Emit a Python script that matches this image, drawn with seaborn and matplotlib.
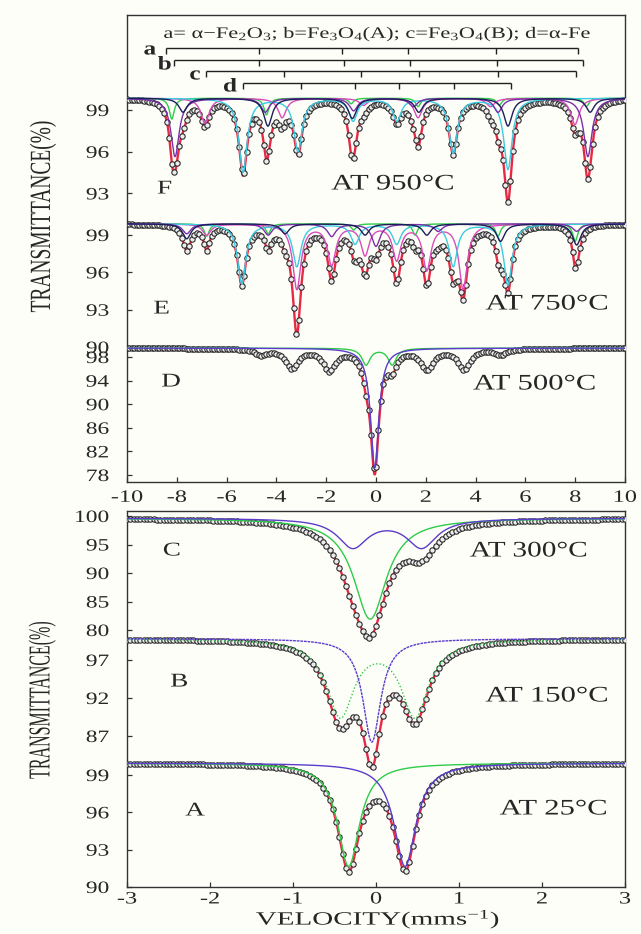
import numpy as np
import pandas as pd
import matplotlib
matplotlib.use("Agg")
import matplotlib.pyplot as plt
import seaborn as sns
from matplotlib.patheffects import AbstractPathEffect
from matplotlib.transforms import Affine2D

# ---------------- data ----------------
LEGEND_TEXT = r"a= α−Fe$_2$O$_3$; b=Fe$_3$O$_4$(A); c=Fe$_3$O$_4$(B); d=α-Fe"
BRACKET_NAMES = ["a", "b", "c", "d"]
BRACKET_A = [-8.45, -4.68, -1.35, 1.30, 4.83, 8.13]
BRACKET_B = [-8.12, -4.68, -1.27, 1.37, 4.85, 8.30]
BRACKET_C = [-6.81, -3.69, -0.62, 1.73, 4.90, 8.05]
BRACKET_D = [-5.33, -3.03, -0.85, 0.91, 3.12, 5.42]

TOP_XTICKS = [-10, -8, -6, -4, -2, 0, 2, 4, 6, 8, 10]
BOT_XTICKS = [-3, -2, -1, 0, 1, 2, 3]

# spectrum F (950 C): baseline and lines (position mm/s, depth %)
F_BASE = 99.85
F_CYAN = ([-5.34, -3.13, -0.92, 0.84, 3.10, 5.30], [5.3, 3.8, 1.6, 1.6, 3.9, 5.1])
F_NAVY = ([-7.75, -4.34, -0.95, 1.72, 5.30, 8.60], [1.0, 2.0, 1.45, 1.0, 2.0, 1.0])
F_PURPLE = ([-8.07, -4.45, -0.90, 1.50, 4.90, 8.51], [4.2, 1.0, 0.9, 0.6, 1.0, 4.2])
F_MAGENTA = ([-6.87, -3.77, -0.50, 1.69, 4.60, 7.99], [1.8, 1.4, 0.5, 1.4, 0.6, 1.9])
F_GREEN = ([-8.20, -4.40, -1.00, 1.69, 4.95, 8.45], [1.5, 1.2, 0.4, 0.6, 0.5, 0.6])
F_TICKS = [99, 96, 93]

# spectrum E (750 C)
E_BASE = 99.9
E_CYAN = ([-5.39, -3.18, -0.84, 0.83, 3.10, 5.30], [4.8, 3.4, 1.6, 1.6, 3.4, 4.9])
E_MAGENTA = ([-6.80, -3.18, -1.78, -0.44, 0.83, 2.04, 3.50], [0.9, 5.2, 3.2, 2.4, 2.8, 3.6, 5.2])
E_NAVY = ([-7.60, -3.65, -0.44, 2.04, 5.00, 8.06], [1.2, 0.8, 0.9, 0.9, 1.4, 1.7])
E_GREEN = ([-6.80, -4.33, -0.90, 1.57, 4.90, 8.00], [1.0, 0.8, 0.5, 0.9, 1.0, 1.4])
E_PURPLE = ([-7.60, -4.33, -1.78, 0.00, 2.50, 8.06], [0.8, 0.9, 1.0, 1.8, 0.6, 0.6])
E_TICKS = [99, 96, 93, 90]

# spectrum D (500 C)
D_BASE = 99.5
D_PURPLE = ([-0.05], [20.3])
D_GREEN = ([-0.40, 0.65], [2.8, 2.8])
D_BROAD = ([-4.60, -3.37, -1.88, 2.05, 3.53, 5.00], [1.0, 3.3, 3.5, 3.4, 3.4, 1.0])
D_TICKS = [98, 94, 90, 86, 82, 78]

# spectrum C (300 C)
C_BASE = 99.6
C_GREEN = ([-0.07], [17.7])
C_PURPLE = ([-0.28, 0.55], [5.0, 5.0])
C_TICKS = [100, 95, 90, 85, 80]

# spectrum B (150 C)
B_BASE = 99.8
B_PURPLE = ([-0.05], [13.6])
B_GREEN = ([-0.43, 0.47], [10.0, 10.0])
B_TICKS = [97, 92, 87]

# spectrum A (25 C)
A_BASE = 99.95
A_GREEN = ([-0.33], [8.3])
A_PURPLE = ([0.35], [8.3])
A_TICKS = [99, 96, 93, 90]

# line half widths (mm/s)
G_SEXTET, G_NARROW, G_D_MAIN, G_D_GREEN, G_D_BROAD = 0.20, 0.12, 0.20, 0.20, 0.30
G_C_GREEN, G_C_PURPLE, G_B_PURPLE, G_B_GREEN, G_A = 0.24, 0.22, 0.13, 0.20, 0.16

# ---------------- styling ----------------
RED = "#e62a45"
NAVY = "#1d1d5a"
VIOLET = "#7b2fa8"
MAGENTA = "#d84cbc"
CYAN = "#3ccbe0"
GREEN = "#2fcb4a"
BLUEVIOLET = "#5b3ccc"
BG = "#fefef8"

sns.set_style("ticks")
plt.rcParams["font.family"] = ["Liberation Serif", "DejaVu Serif"]
plt.rcParams["mathtext.fontset"] = "custom"
plt.rcParams["mathtext.rm"] = "Liberation Serif"
plt.rcParams["mathtext.it"] = "Liberation Serif:italic"
plt.rcParams["axes.unicode_minus"] = False


class StretchX(AbstractPathEffect):
    """Widen the glyphs horizontally (the reference scan is stretched)."""

    def __init__(self, sx=1.4, anchor="center"):
        super().__init__()
        self.sx = sx
        self.anchor = anchor

    def draw_path(self, renderer, gc, tpath, affine, rgbFace=None):
        ext = tpath.get_extents(affine)
        if self.anchor == "right":
            cx = ext.x1
        elif self.anchor == "left":
            cx = ext.x0
        else:
            cx = 0.5 * (ext.x0 + ext.x1)
        aff = affine + Affine2D().translate(-cx, 0).scale(self.sx, 1.0).translate(cx, 0)
        renderer.draw_path(gc, tpath, aff, rgbFace)


def lsum(v, lines, g):
    pos, dep = lines
    out = np.zeros_like(v)
    for p, d in zip(pos, dep):
        out += d / (1.0 + ((v - p) / g) ** 2)
    return out


def ymap(T, t0, p0, ppu):
    return p0 + (t0 - np.asarray(T, dtype=float)) * ppu


def draw_spectrum(ax, vfine, vpts, base, comps, hidden, mp):
    total_f = np.full_like(vfine, base)
    total_p = np.full_like(vpts, base)
    for lines, g, col, ls in comps + hidden:
        total_f -= lsum(vfine, lines, g)
        total_p -= lsum(vpts, lines, g)
    sns.lineplot(x=vfine, y=ymap(total_f, *mp), ax=ax, color=RED, linewidth=1.7,
                 sort=False, zorder=2)
    sns.scatterplot(x=vpts, y=ymap(total_p, *mp), ax=ax, marker="o", s=15,
                    facecolor="#ececec", edgecolor="#202020", linewidth=0.75,
                    zorder=3, legend=False)
    for lines, g, col, ls in comps:
        comp = base - lsum(vfine, lines, g)
        sns.lineplot(x=vfine, y=ymap(comp, *mp), ax=ax, color=col, linewidth=1.0,
                     linestyle=ls, sort=False, zorder=4)


fig = plt.figure(figsize=(6.41, 9.34), dpi=100, facecolor=BG)
W, H = 641.0, 934.0
ax_top = fig.add_axes([127 / W, 1 - 481.5 / H, 498 / W, 466.5 / H])
ax_bot = fig.add_axes([127 / W, 1 - 887 / H, 498 / W, 376.5 / H])
for ax in (ax_top, ax_bot):
    ax.set_facecolor(BG)

# ---------------- top panel ----------------
vt_f = np.linspace(-10, 10, 2001)
vt_p = np.linspace(-10, 10, 201)
F_MAP = (99, 110, 13.9)
E_MAP = (99, 235, 12.45)
D_MAP = (98, 357, 5.9)

draw_spectrum(ax_top, vt_f, vt_p, F_BASE,
              [(F_GREEN, G_NARROW, GREEN, "-"), (F_MAGENTA, G_SEXTET, MAGENTA, "-"),
               (F_CYAN, G_SEXTET, CYAN, "-"), (F_PURPLE, G_SEXTET, VIOLET, "-"),
               (F_NAVY, G_SEXTET, NAVY, "-")], [], F_MAP)
draw_spectrum(ax_top, vt_f, vt_p, E_BASE,
              [(E_GREEN, G_NARROW, GREEN, "-"), (E_MAGENTA, G_SEXTET, MAGENTA, "-"),
               (E_CYAN, G_SEXTET, CYAN, "-"), (E_PURPLE, G_SEXTET, VIOLET, "-"),
               (E_NAVY, G_SEXTET, NAVY, "-")], [], E_MAP)
draw_spectrum(ax_top, vt_f, vt_p, D_BASE,
              [(D_GREEN, G_D_GREEN, GREEN, "-"), (D_PURPLE, G_D_MAIN, BLUEVIOLET, "-")],
              [(D_BROAD, G_D_BROAD, RED, "-")], D_MAP)

ax_top.set_xlim(-10, 10)
ax_top.set_ylim(481.5, 15)
ax_top.set_xticks(TOP_XTICKS)
ax_top.set_xticklabels([str(t) for t in TOP_XTICKS])
ytick_pos = list(ymap(F_TICKS, *F_MAP)) + list(ymap(E_TICKS, *E_MAP)) + list(ymap(D_TICKS, *D_MAP))
ytick_lab = [str(t) for t in F_TICKS + E_TICKS + D_TICKS]
ax_top.set_yticks(ytick_pos)
ax_top.set_yticklabels(ytick_lab)

# brackets
br_levels = [47.5, 60.0, 71.0, 83.0]
br_label_x = [-9.08, -8.49, -7.27, -5.86]
br_label_y = [50.0, 65.0, 75.0, 87.0]
for name, br, lev, lx, ly in zip(BRACKET_NAMES, [BRACKET_A, BRACKET_B, BRACKET_C, BRACKET_D],
                                 br_levels, br_label_x, br_label_y):
    ax_top.hlines(lev, br[0], br[-1], color="#202020", linewidth=1.0, zorder=5)
    ax_top.vlines(br, lev, lev + 6, color="#202020", linewidth=1.0, zorder=5)
    ax_top.text(lx, ly, name, fontsize=14, fontweight="bold", ha="center", va="center",
                path_effects=[StretchX(1.3)])

ax_top.text(0.08, 34, LEGEND_TEXT, fontsize=11.5, ha="center", va="center",
            path_effects=[StretchX(1.4)])
ax_top.text(-8.49, 189, "F", fontsize=14, ha="center", va="center", path_effects=[StretchX(1.4)])
ax_top.text(0.68, 185, "AT 950°C", fontsize=16, ha="center", va="center", path_effects=[StretchX(1.38)])
ax_top.text(-8.61, 309, "E", fontsize=14, ha="center", va="center", path_effects=[StretchX(1.4)])
ax_top.text(6.87, 305, "AT 750°C", fontsize=16, ha="center", va="center", path_effects=[StretchX(1.38)])
ax_top.text(-8.23, 382, "D", fontsize=14, ha="center", va="center", path_effects=[StretchX(1.4)])
ax_top.text(6.37, 385, "AT 500°C", fontsize=16, ha="center", va="center", path_effects=[StretchX(1.38)])

# ---------------- bottom panel ----------------
vb_f = np.linspace(-3, 3, 1201)
vb_p = np.linspace(-3, 3, 151)
C_MAP = (100, 516, 5.7)
B_MAP = (97, 660, 7.6)
A_MAP = (99, 775, 12.44)

draw_spectrum(ax_bot, vb_f, vb_p, C_BASE,
              [(C_GREEN, G_C_GREEN, GREEN, "-"), (C_PURPLE, G_C_PURPLE, BLUEVIOLET, "-")], [], C_MAP)
draw_spectrum(ax_bot, vb_f, vb_p, B_BASE,
              [(B_GREEN, G_B_GREEN, GREEN, (0, (1, 1.5))),
               (B_PURPLE, G_B_PURPLE, BLUEVIOLET, (0, (2, 0.6)))], [], B_MAP)
draw_spectrum(ax_bot, vb_f, vb_p, A_BASE,
              [(A_GREEN, G_A, GREEN, "-"), (A_PURPLE, G_A, BLUEVIOLET, "-")], [], A_MAP)

ax_bot.set_xlim(-3, 3)
ax_bot.set_ylim(887, 510.5)
ax_bot.set_xticks(BOT_XTICKS)
ax_bot.set_xticklabels([str(t) for t in BOT_XTICKS])
ytick_pos = list(ymap(C_TICKS, *C_MAP)) + list(ymap(B_TICKS, *B_MAP)) + list(ymap(A_TICKS, *A_MAP))
ytick_lab = [str(t) for t in C_TICKS + B_TICKS + A_TICKS]
ax_bot.set_yticks(ytick_pos)
ax_bot.set_yticklabels(ytick_lab)

ax_bot.text(-2.46, 551, "C", fontsize=14, ha="center", va="center", path_effects=[StretchX(1.4)])
ax_bot.text(1.84, 552, "AT 300°C", fontsize=16, ha="center", va="center", path_effects=[StretchX(1.32)])
ax_bot.text(-2.37, 682, "B", fontsize=14, ha="center", va="center", path_effects=[StretchX(1.4)])
ax_bot.text(2.06, 697, "AT 150°C", fontsize=16, ha="center", va="center", path_effects=[StretchX(1.38)])
ax_bot.text(-2.18, 811, "A", fontsize=14, ha="center", va="center", path_effects=[StretchX(1.4)])
ax_bot.text(2.14, 810, "AT 25°C", fontsize=16, ha="center", va="center", path_effects=[StretchX(1.38)])

# ---------------- axes styling ----------------
for ax, xpad in ((ax_top, 6.0), (ax_bot, 3.2)):
    for sp in ax.spines.values():
        sp.set_visible(True)
        sp.set_linewidth(1.0)
        sp.set_color("#333333")
    ax.tick_params(axis="both", direction="in", length=3.6, width=0.9, color="#333333")
    ax.tick_params(axis="y", labelsize=12.5, pad=13)
    ax.tick_params(axis="x", labelsize=12.5, pad=xpad)
    ax.set_xlabel("")
    ax.set_ylabel("")

fig.text(43 / W, 1 - 216 / H, "TRANSMITTANCE(%)", rotation=90, fontsize=14,
         ha="center", va="center", path_effects=[StretchX(1.5)])
fig.text(42 / W, 1 - 700 / H, "TRANSMITTANCE(%)", rotation=90, fontsize=11.5,
         ha="center", va="center", path_effects=[StretchX(1.9)])
fig.text(378 / W, 1 - 919.5 / H, r"VELOCITY(mms$^{-1}$)", fontsize=13.5,
         ha="center", va="center", path_effects=[StretchX(1.55)])

fig.canvas.draw()
for ax in (ax_top, ax_bot):
    for lab in ax.get_yticklabels():
        lab.set_path_effects([StretchX(1.35, "right")])
    for lab in ax.get_xticklabels():
        lab.set_path_effects([StretchX(1.4)])

fig.savefig("out.png", dpi=100, facecolor=BG)
